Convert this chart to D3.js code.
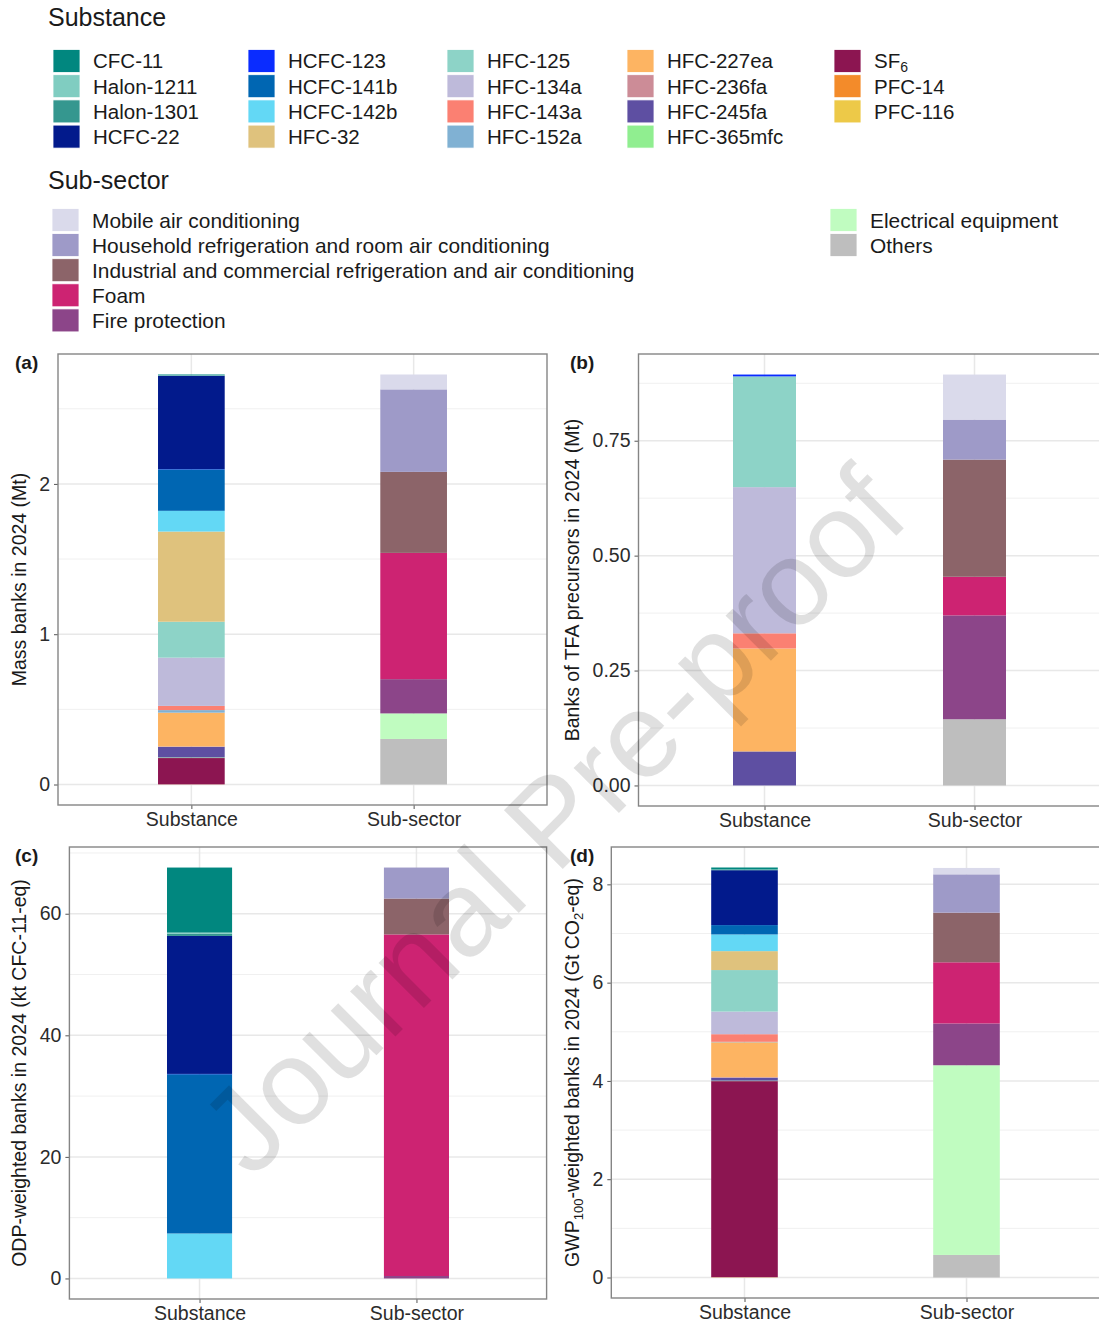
<!DOCTYPE html>
<html>
<head>
<meta charset="utf-8">
<script src="https://cdn.jsdelivr.net/npm/d3@7"></script>
<style>
	body { margin: 0; background: #fff; }
	svg { font-family: 'Liberation Sans', Arial, sans-serif; }
</style>
</head>
<body>
<svg id="chart"></svg>
<script>
// ---- data ----
const substances = [
	'CFC-11', 'Halon-1211', 'Halon-1301', 'HCFC-22', 'HCFC-123', 'HCFC-141b',
	'HCFC-142b', 'HFC-32', 'HFC-125', 'HFC-134a', 'HFC-143a', 'HFC-152a',
	'HFC-227ea', 'HFC-236fa', 'HFC-245fa', 'HFC-365mfc', 'SF6', 'PFC-14', 'PFC-116',
];
const substanceColors = [
	'#01877f', '#80cdc1', '#35978f', '#021a8c', '#0a2cff', '#0066b2',
	'#63d8f5', '#dfc27d', '#8dd3c7', '#bebada', '#fb8072', '#80b1d3',
	'#fdb462', '#cc8c97', '#5e4fa2', '#90ee90', '#8c1551', '#f38b2a', '#edc948',
];
const subSectors = [
	'Mobile air conditioning',
	'Household refrigeration and room air conditioning',
	'Industrial and commercial refrigeration and air conditioning',
	'Foam',
	'Fire protection',
	'Electrical equipment',
	'Others',
];
const subSectorColors = [
	'#dadaeb', '#9e9ac8', '#8c6469', '#cd2372', '#8c4589', '#c0fcc0', '#bebebe',
];
const categories = ['Substance', 'Sub-sector'];

// (a) mass banks, Mt
const massBySubstance = [
	0.005, 0.002, 0.002, 0.620, 0.002, 0.276, 0.138, 0.600, 0.239, 0.321,
	0.028, 0.017, 0.225, 0.002, 0.071, 0.004, 0.175, 0.0005, 0.0005,
];
const massBySector = [0.099, 0.549, 0.539, 0.840, 0.228, 0.170, 0.303];

// (b) TFA precursor banks, Mt
const tfaBySubstance = [
	0, 0, 0, 0, 0.004, 0, 0, 0, 0.241, 0.318,
	0.033, 0, 0.224, 0, 0.074, 0, 0, 0, 0,
];
const tfaBySector = [0.098, 0.087, 0.255, 0.084, 0.226, 0, 0.144];

// (c) ODP-weighted banks, kt CFC-11-eq
const odpBySubstance = [
	10.7, 0.2, 0.35, 22.7, 0.05, 26.2, 7.4, 0, 0, 0,
	0, 0, 0, 0, 0, 0, 0, 0, 0,
];
const odpBySector = [0, 5.1, 5.9, 56.2, 0.4, 0, 0];

// (d) GWP100-weighted banks, Gt CO2-eq
const gwpBySubstance = [
	0.04, 0.005, 0.01, 1.116, 0.001, 0.19, 0.34, 0.385, 0.845, 0.46,
	0.155, 0.01, 0.71, 0.01, 0.06, 0.01, 3.99, 0.003, 0.003,
];
const gwpBySector = [0.13, 0.78, 1.01, 1.245, 0.85, 3.86, 0.459];

const svg = d3.select('#chart').attr('width', 1099).attr('height', 1324);

class StackedPanel {
	constructor(_config, _substanceValues, _sectorValues) {
		this.config = _config;
		this.substanceValues = _substanceValues;
		this.sectorValues = _sectorValues;
		this.initVis();
	}

	initVis() {
		let vis = this;
		const c = vis.config;

		vis.width = c.right - c.left;
		vis.height = c.bottom - c.top;

		vis.chart = svg
			.append('g')
			.attr('transform', `translate(${c.left},${c.top})`);

		vis.xScale = d3
			.scalePoint()
			.domain(categories)
			.range([0, vis.width])
			.padding(0.6);

		const maxTotal = d3.max([
			d3.sum(vis.substanceValues),
			d3.sum(vis.sectorValues),
		]);
		vis.yScale = d3
			.scaleLinear()
			.domain([-0.05 * maxTotal, 1.05 * maxTotal])
			.range([vis.height, 0]);

		vis.renderVis();
	}

	renderVis() {
		let vis = this;
		const c = vis.config;
		const [y0, y1] = vis.yScale.domain();

		// minor grid half way between major ticks
		const step = c.ticks[1] - c.ticks[0];
		const minor = c.ticks
			.flatMap((t) => [t - step / 2, t + step / 2])
			.filter((v, i, arr) => arr.indexOf(v) === i && v > y0 && v < y1);

		vis.chart
			.selectAll('.grid-minor')
			.data(minor)
			.join('line')
			.attr('class', 'grid-minor')
			.attr('x1', 0)
			.attr('x2', vis.width)
			.attr('y1', (d) => vis.yScale(d))
			.attr('y2', (d) => vis.yScale(d))
			.attr('stroke', '#f0f0f0')
			.attr('stroke-width', 1);

		vis.chart
			.selectAll('.grid-major')
			.data(c.ticks)
			.join('line')
			.attr('class', 'grid-major')
			.attr('x1', 0)
			.attr('x2', vis.width)
			.attr('y1', (d) => vis.yScale(d))
			.attr('y2', (d) => vis.yScale(d))
			.attr('stroke', '#e8e8e8')
			.attr('stroke-width', 1.5);

		vis.chart
			.selectAll('.grid-x')
			.data(categories)
			.join('line')
			.attr('class', 'grid-x')
			.attr('x1', (d) => vis.xScale(d))
			.attr('x2', (d) => vis.xScale(d))
			.attr('y1', 0)
			.attr('y2', vis.height)
			.attr('stroke', '#e8e8e8')
			.attr('stroke-width', 1.5);

		// stacked bars: first legend entry ends up on top, like ggplot
		const barWidth = vis.xScale.step() * 0.3;
		const bars = [
			{ cat: 'Substance', keys: substances, values: vis.substanceValues, colors: substanceColors },
			{ cat: 'Sub-sector', keys: subSectors, values: vis.sectorValues, colors: subSectorColors },
		];

		bars.forEach((bar) => {
			const row = {};
			bar.keys.forEach((k, i) => (row[k] = bar.values[i]));
			const color = d3.scaleOrdinal().domain(bar.keys).range(bar.colors);
			const series = d3.stack().keys(bar.keys.slice().reverse())([row]);

			vis.chart
				.append('g')
				.selectAll('rect')
				.data(series.filter((s) => s[0][1] - s[0][0] > 0))
				.join('rect')
				.attr('x', vis.xScale(bar.cat) - barWidth / 2)
				.attr('width', barWidth)
				.attr('y', (s) => vis.yScale(s[0][1]))
				.attr('height', (s) => vis.yScale(s[0][0]) - vis.yScale(s[0][1]))
				.attr('fill', (s) => color(s.key));
		});

		// axes
		const yAxis = d3
			.axisLeft(vis.yScale)
			.tickValues(c.ticks)
			.tickFormat(d3.format(c.format))
			.tickSize(4)
			.tickPadding(4);
		const xAxis = d3.axisBottom(vis.xScale).tickSize(4).tickPadding(3);

		vis.chart
			.append('g')
			.call(yAxis)
			.call((g) => g.select('.domain').remove())
			.call((g) => g.selectAll('line').attr('stroke', '#555'))
			.selectAll('text')
			.attr('font-size', '19.5px')
			.attr('font-family', "'Liberation Sans', Arial, sans-serif")
			.attr('fill', '#2b2b2b');

		vis.chart
			.append('g')
			.attr('transform', `translate(0,${vis.height})`)
			.call(xAxis)
			.call((g) => g.select('.domain').remove())
			.call((g) => g.selectAll('line').attr('stroke', '#555'))
			.selectAll('text')
			.attr('font-size', '19.5px')
			.attr('font-family', "'Liberation Sans', Arial, sans-serif")
			.attr('fill', '#2b2b2b');

		vis.chart
			.append('rect')
			.attr('width', vis.width)
			.attr('height', vis.height)
			.attr('fill', 'none')
			.attr('stroke', '#858585')
			.attr('stroke-width', 1.4);

		// panel tag and y title
		svg.append('text')
			.attr('x', c.tagX)
			.attr('y', c.top + 15)
			.attr('font-size', '19px')
			.attr('font-weight', 'bold')
			.attr('fill', '#1a1a1a')
			.text(c.tag);

		const title = svg
			.append('text')
			.attr('transform', `translate(${c.titleX},${(c.top + c.bottom) / 2}) rotate(-90)`)
			.attr('text-anchor', 'middle')
			.attr('dy', '0.35em')
			.attr('font-size', '19.5px')
			.attr('fill', '#1a1a1a');
		let shifted = false;
		c.title.forEach((part) => {
			const t = title.append('tspan').text(part.text);
			if (part.sub) {
				t.attr('font-size', '13px').attr('dy', 4);
				shifted = true;
			} else if (shifted) {
				t.attr('dy', -4);
				shifted = false;
			}
		});
	}
}

// ---- legends ----
function drawLegend(title, titleY, items, colors, layout) {
	svg.append('text')
		.attr('x', 48)
		.attr('y', titleY)
		.attr('dy', '0.35em')
		.attr('font-size', '25px')
		.attr('fill', '#1a1a1a')
		.text(title);

	const g = svg.append('g');
	items.forEach((name, i) => {
		const col = Math.floor(i / layout.rows);
		const row = i % layout.rows;
		const x = layout.colX[col];
		const y = layout.y0 + row * layout.rowStep;
		g.append('rect')
			.attr('x', x)
			.attr('y', y - 11.5)
			.attr('width', 27)
			.attr('height', 23)
			.attr('fill', colors[i])
			.attr('stroke', '#fff')
			.attr('stroke-width', 0.8);
		const label = g
			.append('text')
			.attr('x', x + 40)
			.attr('y', y)
			.attr('dy', '0.36em')
			.attr('font-size', layout.fontSize)
			.attr('fill', '#1a1a1a');
		if (name === 'SF6') {
			label.append('tspan').text('SF');
			label.append('tspan').attr('font-size', '14px').attr('dy', 4).text('6');
		} else {
			label.text(name);
		}
	});
}

drawLegend('Substance', 17, substances, substanceColors, {
	rows: 4,
	colX: [53, 248, 447, 627, 834],
	y0: 61,
	rowStep: 25.2,
	fontSize: '20.5px',
});
drawLegend('Sub-sector', 180, subSectors, subSectorColors, {
	rows: 5,
	colX: [52, 830],
	y0: 220,
	rowStep: 25.1,
	fontSize: '20.9px',
});

// ---- panels ----
new StackedPanel(
	{
		left: 58, right: 547, top: 354, bottom: 805,
		ticks: [0, 1, 2], format: 'd', tag: '(a)', tagX: 15, titleX: 19,
		title: [{ text: 'Mass banks in 2024 (Mt)' }],
	},
	massBySubstance, massBySector
);
new StackedPanel(
	{
		left: 638.5, right: 1100.5, top: 354, bottom: 806,
		ticks: [0, 0.25, 0.5, 0.75], format: '.2f', tag: '(b)', tagX: 570, titleX: 572,
		title: [{ text: 'Banks of TFA precursors in 2024 (Mt)' }],
	},
	tfaBySubstance, tfaBySector
);
new StackedPanel(
	{
		left: 69.4, right: 546.6, top: 847, bottom: 1299,
		ticks: [0, 20, 40, 60], format: 'd', tag: '(c)', tagX: 15, titleX: 19,
		title: [{ text: 'ODP-weighted banks in 2024 (kt CFC-11-eq)' }],
	},
	odpBySubstance, odpBySector
);
new StackedPanel(
	{
		left: 611.3, right: 1099.7, top: 847, bottom: 1298,
		ticks: [0, 2, 4, 6, 8], format: 'd', tag: '(d)', tagX: 570, titleX: 572,
		title: [
			{ text: 'GWP' },
			{ text: '100', sub: true },
			{ text: '-weighted banks in 2024 (Gt CO' },
			{ text: '2', sub: true },
			{ text: '-eq)' },
		],
	},
	gwpBySubstance, gwpBySector
);

// watermark
svg.append('text')
	.attr('transform', 'translate(552,820) rotate(-45)')
	.attr('text-anchor', 'middle')
	.attr('dy', '0.35em')
	.attr('font-size', '121px')
	.attr('fill', '#000')
	.attr('fill-opacity', 0.12)
	.style('pointer-events', 'none')
	.text('Journal Pre-proof');
</script>
</body>
</html>
